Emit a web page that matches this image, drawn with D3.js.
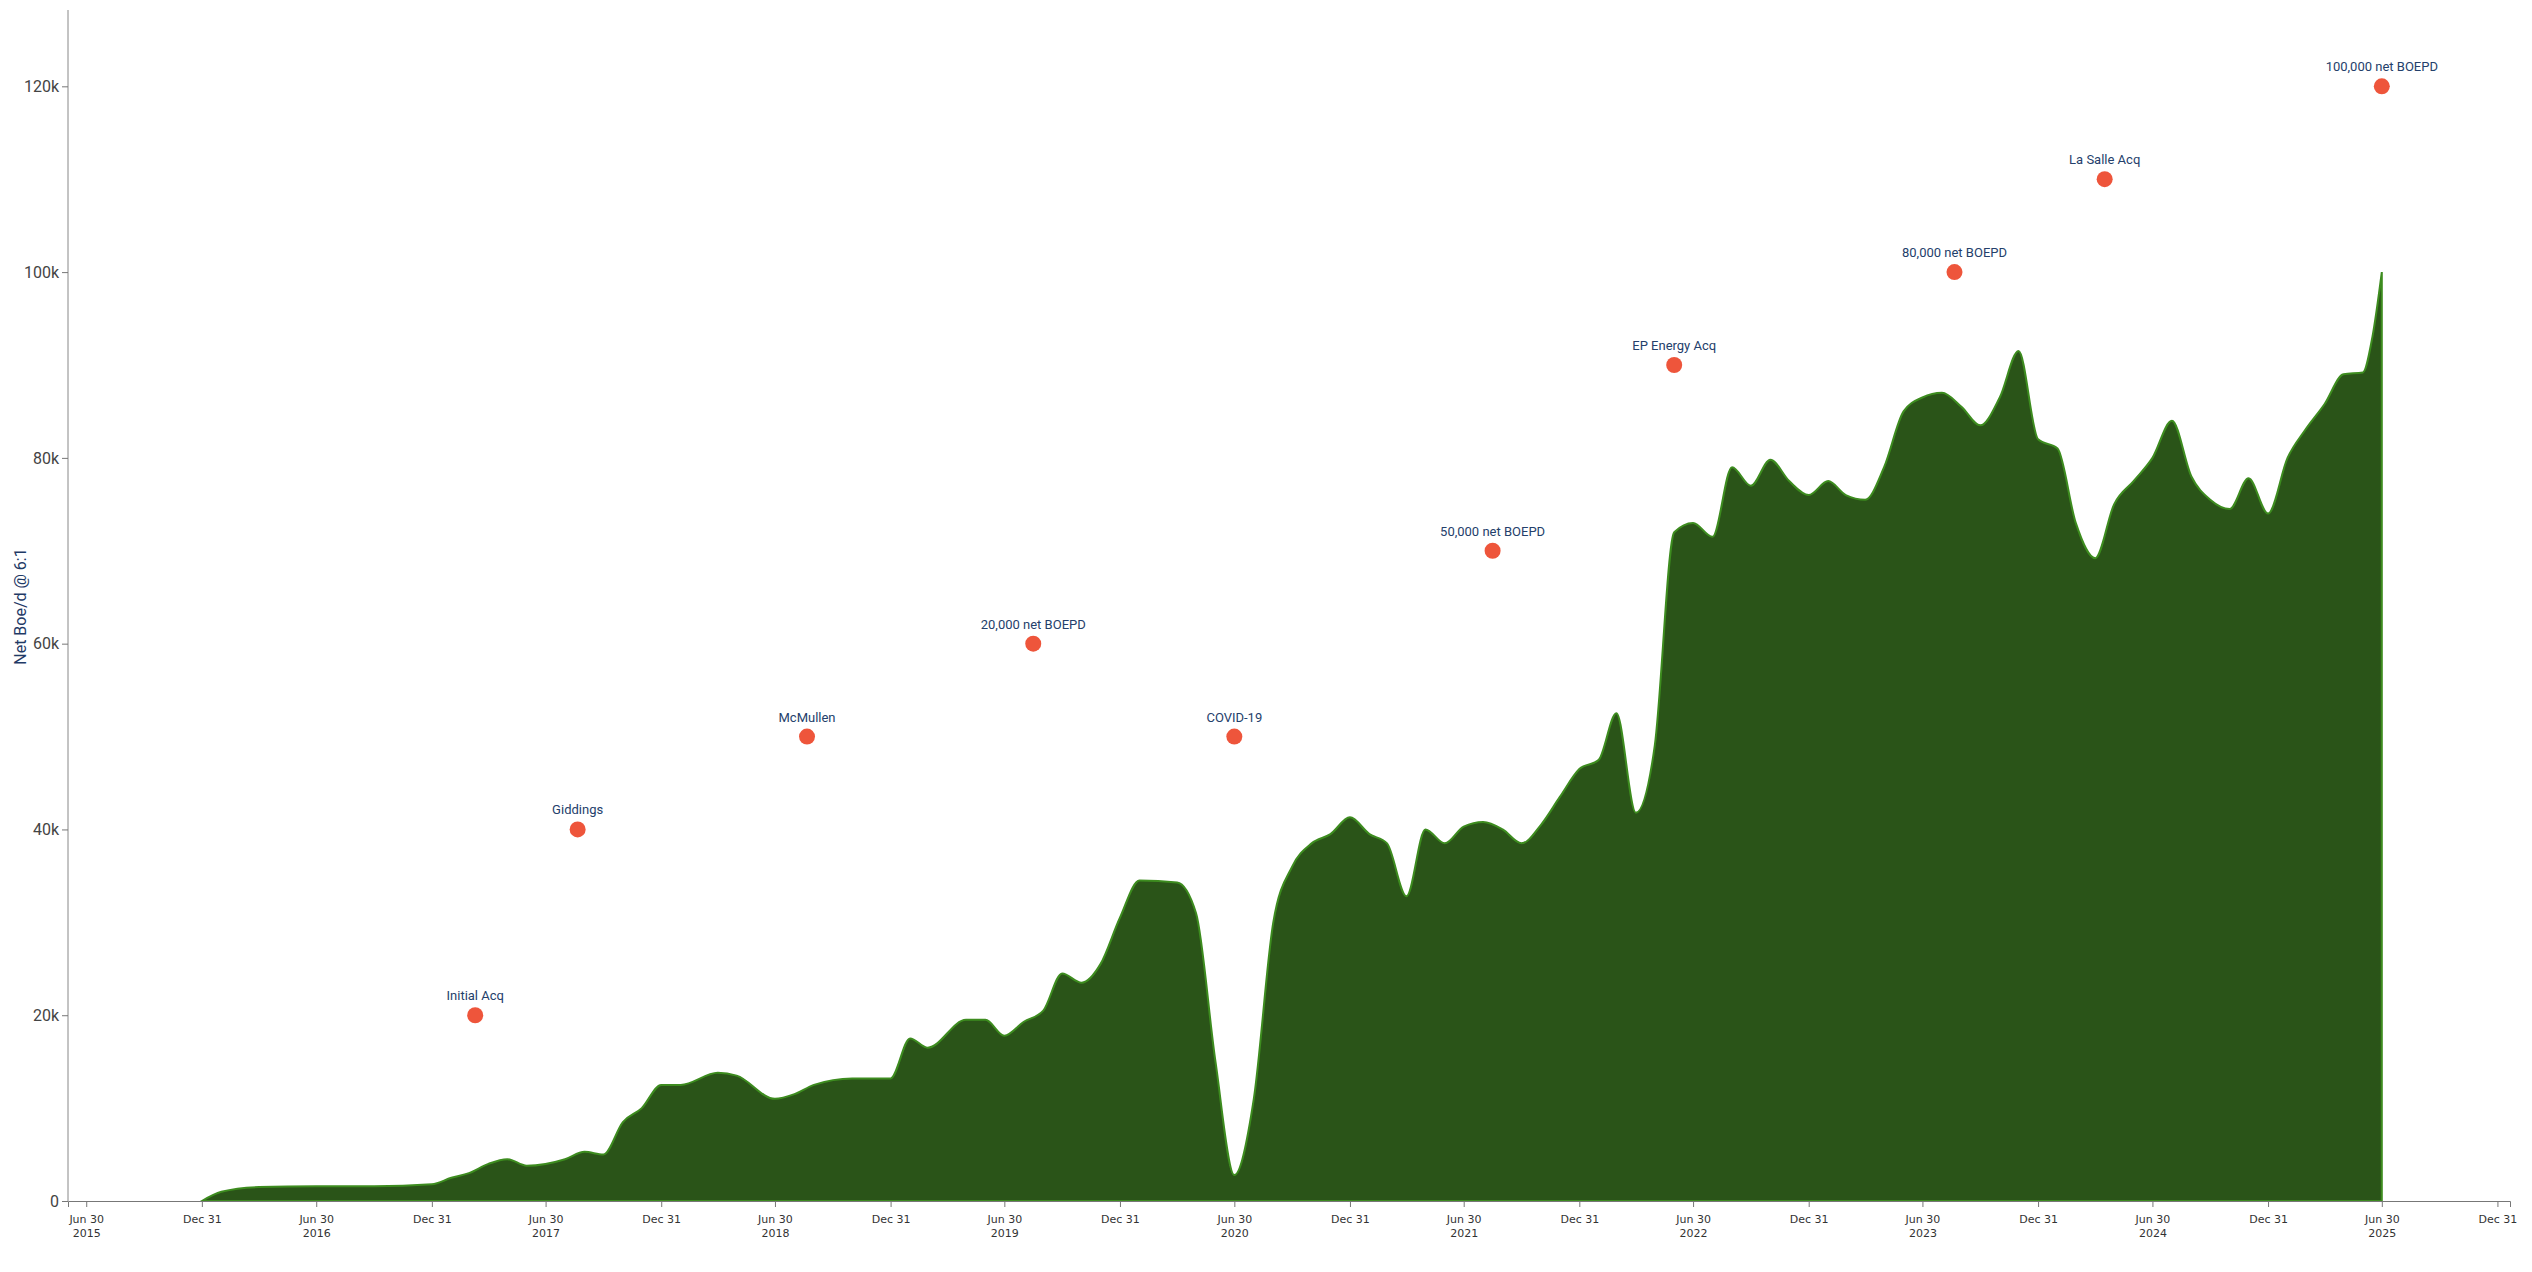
<!DOCTYPE html>
<html><head><meta charset="utf-8">
<script src="https://cdn.jsdelivr.net/npm/d3@7"></script>
<style>body{margin:0;background:#fff}</style>
</head><body><div id="chart"></div>
<script>
// production, month points
const months = ['2015-12-31','2016-01-31','2016-03-31','2016-06-30','2016-09-30','2016-12-31','2017-01-31','2017-02-28','2017-03-31','2017-04-30','2017-05-31','2017-07-31','2017-08-31','2017-09-30','2017-10-31','2017-11-30','2017-12-31','2018-01-31','2018-03-31','2018-04-30','2018-06-30','2018-07-31','2018-08-31','2018-10-31','2018-12-31','2019-01-31','2019-02-28','2019-04-30','2019-05-31','2019-06-30','2019-07-31','2019-08-31','2019-09-30','2019-10-31','2019-11-30','2019-12-31','2020-01-31','2020-03-31','2020-04-30','2020-05-31','2020-06-30','2020-07-31','2020-08-31','2020-09-30','2020-10-31','2020-11-30','2020-12-31','2021-01-31','2021-02-28','2021-03-31','2021-04-30','2021-05-31','2021-06-30','2021-07-31','2021-08-31','2021-09-30','2021-10-31','2021-11-30','2021-12-31','2022-01-31','2022-02-28','2022-03-31','2022-04-30','2022-05-31','2022-06-30','2022-07-31','2022-08-31','2022-09-30','2022-10-31','2022-11-30','2022-12-31','2023-01-31','2023-02-28','2023-03-31','2023-04-30','2023-05-31','2023-06-30','2023-07-31','2023-08-31','2023-09-30','2023-10-31','2023-11-30','2023-12-31','2024-01-31','2024-02-29','2024-03-31','2024-04-30','2024-05-31','2024-06-30','2024-07-31','2024-08-31','2024-09-30','2024-10-31','2024-11-30','2024-12-31','2025-01-31','2025-02-28','2025-03-31','2025-04-30','2025-05-31','2025-06-15','2025-06-30'];
const boed = [0,1000,1500,1600,1600,1800,2500,3000,4000,4500,3800,4500,5300,5000,8500,10000,12500,12500,13800,13500,11000,11500,12500,13200,13200,17500,16500,19500,19500,17800,19300,20500,24500,23500,25500,30500,34500,34300,31000,15000,2800,11000,30000,36000,38500,39500,41300,39500,38500,32800,40000,38500,40300,40800,40000,38500,40500,43500,46500,47500,52500,41800,49000,72000,73000,71500,79000,77000,79800,77500,76000,77500,76000,75500,79000,85000,86500,87000,85500,83500,86500,91500,82000,81000,73000,69200,75000,77500,80000,84000,78000,75500,74500,77800,74000,80000,83000,85800,89000,89200,93000,100000];

// milestones
const eventDates = ['2017-03-10','2017-08-20','2018-08-20','2019-08-15','2020-06-30','2021-08-15','2022-05-31','2023-08-20','2024-04-15','2025-06-30'];
const eventLevels = [20000,40000,50000,60000,50000,70000,90000,100000,110000,120000];
const eventNames = ['Initial Acq','Giddings','McMullen','20,000 net BOEPD','COVID-19','50,000 net BOEPD','EP Energy Acq','80,000 net BOEPD','La Salle Acq','100,000 net BOEPD'];

const yTicks = [0,20000,40000,60000,80000,100000,120000];

const W = 2532, H = 1272;
const margin = {top: 12, right: 22, bottom: 71, left: 68};
const width = W - margin.left - margin.right, height = H - margin.top - margin.bottom;
const parse = d3.timeParse('%Y-%m-%d');
const data = months.map((m, i) => ({date: parse(m), v: boed[i]}));
const events = eventDates.map((d, i) => ({date: parse(d), v: eventLevels[i], name: eventNames[i]}));

const svg = d3.select('#chart').append('svg').attr('width', W).attr('height', H);
const g = svg.append('g').attr('transform', `translate(${margin.left},${margin.top})`);

const x = d3.scaleTime().domain([parse('2015-06-01'), parse('2026-01-20')]).range([0, width]);
const y = d3.scaleLinear().domain([0, 128000]).range([height, 0]);

const area = d3.area().x(d => x(d.date)).y0(height).y1(d => y(d.v)).curve(d3.curveMonotoneX);
g.append('path').datum(data).attr('d', area)
  .attr('fill', '#2a5418').attr('stroke', '#3d8c1f').attr('stroke-width', 2);

// x axis
const xTickDates = [];
for (let yr = 2015; yr <= 2025; yr++) {
  xTickDates.push(new Date(yr, 5, 30));
  xTickDates.push(new Date(yr, 11, 31));
}
const xAxis = g.append('g').attr('transform', `translate(0,${height})`)
  .call(d3.axisBottom(x).tickValues(xTickDates).tickSize(6).tickFormat(''));
xAxis.select('.domain').attr('stroke', '#777');
xAxis.selectAll('.tick line').attr('stroke', '#777');
xAxis.selectAll('.tick').each(function(d) {
  const t = d3.select(this).append('text').attr('fill', '#333')
    .style('font', '11px "DejaVu Sans"').attr('text-anchor', 'middle');
  t.append('tspan').attr('x', 0).attr('y', 22).text(d3.timeFormat('%b %d')(d));
  if (d.getMonth() === 5) t.append('tspan').attr('x', 0).attr('y', 36).text(d.getFullYear());
});

// y axis
const yAxis = g.append('g')
  .call(d3.axisLeft(y).tickValues(yTicks).tickSize(6).tickFormat(d => d === 0 ? '0' : d / 1000 + 'k'));
yAxis.select('.domain').attr('stroke', '#888').attr('d', `M-0,${height}V-2`);
yAxis.selectAll('.tick line').attr('stroke', '#777');
yAxis.selectAll('text').attr('fill', '#444').style('font', '16px Roboto');

g.append('text').attr('transform', 'rotate(-90)').attr('x', -height / 2).attr('y', -42)
  .attr('text-anchor', 'middle').attr('fill', '#1f3a66').style('font', '16px Roboto')
  .text('Net Boe/d @ 6:1');

// milestone dots
const ev = g.selectAll('.ev').data(events).enter().append('g')
  .attr('transform', d => `translate(${x(d.date)},${y(d.v)})`);
ev.append('circle').attr('r', 8).attr('fill', '#ee553b');
ev.append('text').attr('y', -15).attr('text-anchor', 'middle').attr('fill', '#24406b')
  .style('font', '13px Roboto').text(d => d.name);
</script></body></html>
